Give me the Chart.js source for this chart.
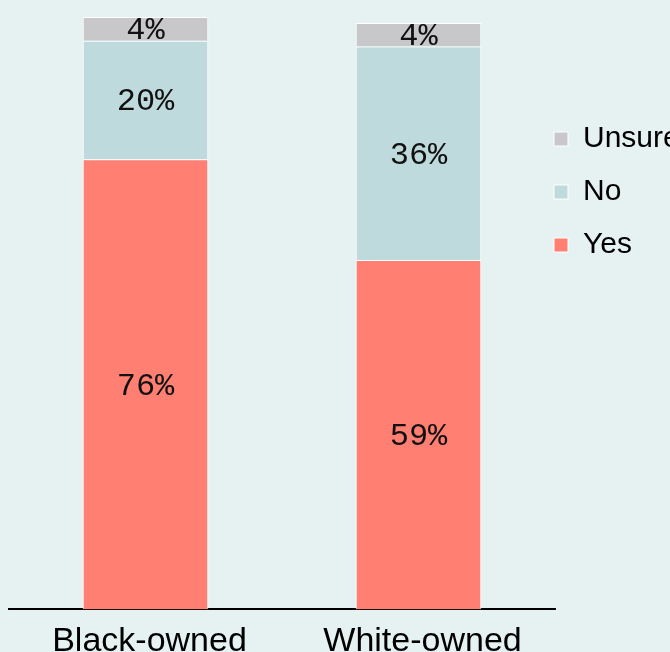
<!DOCTYPE html>
<html>
<head>
<meta charset="utf-8">
<script src="https://cdn.jsdelivr.net/npm/chart.js@4"></script>
<style>
  html, body { margin: 0; padding: 0; background: #e6f2f1; overflow: hidden; }
  #wrap { width: 670px; height: 652px; }
</style>
</head>
<body>
<div id="wrap"><canvas id="chart" width="670" height="652"></canvas></div>
<script>
// owner groups and answer shares (%)
const categories = ['Black-owned', 'White-owned'];
const yesValues = [76, 59];
const noValues = [20, 36];
const unsureValues = [4, 4];

const seriesNames = ['Yes', 'No', 'Unsure'];
const seriesColors = ['#ff7f73', '#bfdadc', '#c8c8cb'];

// write the percentages in the middle of each segment
const segmentLabels = {
    id: 'segmentLabels',
    afterDatasetsDraw(chart) {
        const ctx = chart.ctx;
        ctx.save();
        ctx.font = "32px 'Liberation Mono'";
        ctx.fillStyle = '#111';
        ctx.textAlign = 'center';
        ctx.textBaseline = 'middle';
        chart.data.datasets.forEach((ds, i) => {
            chart.getDatasetMeta(i).data.forEach((bar, j) => {
                const y = (bar.y + bar.base) / 2 + 2;
                ctx.fillText(ds.data[j] + '%', bar.x, y);
            });
        });
        ctx.restore();
    }
};

// pull the legend left so the keys sit right against the plot
const legendNudge = {
    id: 'legendNudge',
    afterLayout(chart) {
        chart.legend.left -= 24;
    }
};

const ctx = document.getElementById('chart').getContext('2d');
new Chart(ctx, {
    type: 'bar',
    data: {
        labels: categories,
        datasets: [yesValues, noValues, unsureValues].map((vals, i) => ({
            label: seriesNames[i],
            data: vals,
            backgroundColor: seriesColors[i],
            borderColor: '#ffffff',
            borderWidth: 1,
            barPercentage: 0.46,
            categoryPercentage: 1
        }))
    },
    options: {
        responsive: false,
        animation: false,
        layout: { padding: { top: 17, left: 9, right: 0, bottom: -22 } },
        scales: {
            x: {
                stacked: true,
                grid: { display: false, drawTicks: false },
                border: { display: true, color: '#000', width: 2 },
                ticks: {
                    color: '#000',
                    padding: 17,
                    maxRotation: 0,
                    labelOffset: 4,
                    font: { family: "'Liberation Sans', Arial, sans-serif", size: 34, lineHeight: 0.9 }
                }
            },
            y: {
                stacked: true,
                display: false,
                min: 0,
                max: 100
            }
        },
        plugins: {
            tooltip: { enabled: false },
            legend: {
                position: 'right',
                align: 'start',
                reverse: true,
                maxWidth: 115,
                title: {
                    display: true,
                    text: '',
                    padding: { top: 74, bottom: 0 },
                    font: { size: 10, lineHeight: 1 }
                },
                labels: {
                    boxWidth: 14,
                    boxHeight: 14,
                    padding: 23,
                    color: '#000',
                    font: { family: "'Liberation Sans', Arial, sans-serif", size: 30 }
                }
            }
        }
    },
    plugins: [segmentLabels, legendNudge]
});
</script>
</body>
</html>
